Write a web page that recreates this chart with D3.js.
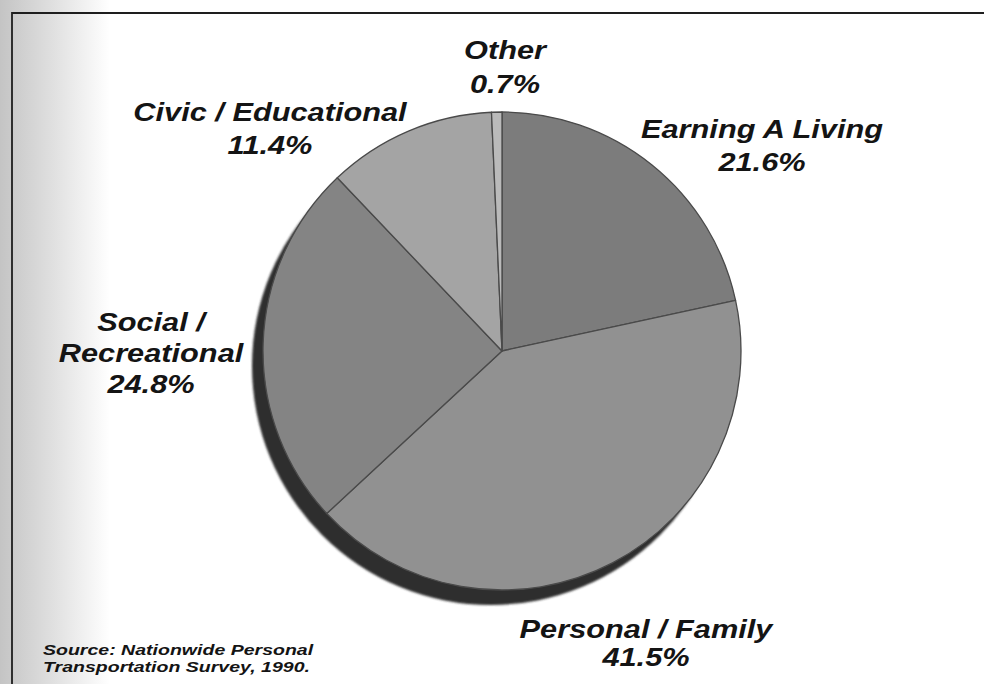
<!DOCTYPE html>
<html>
<head>
<meta charset="utf-8">
<script src="https://cdn.jsdelivr.net/npm/d3@7"></script>
<style>
  html, body { margin: 0; padding: 0; background: #fff; }
  svg { display: block; }
  text { font-family: "Liberation Sans", Arial, Helvetica, sans-serif; font-weight: bold; font-style: italic; fill: #141414; }
</style>
</head>
<body>
<svg id="chart" width="984" height="684"></svg>
<script>
// Trip purpose shares (percent of person trips)
const categories = ["Earning A Living", "Personal / Family", "Social / Recreational", "Civic / Educational", "Other"];
const shares = [21.6, 41.5, 24.8, 11.4, 0.7];
const labelLines = [["Earning A Living"], ["Personal / Family"], ["Social /", "Recreational"], ["Civic / Educational"], ["Other"]];
const sourceLines = ["Source: Nationwide Personal", "Transportation Survey, 1990."];

const W = 984, H = 684;
const cx = 502, cy = 351, R = 239;
const sliceFills = ["#7c7c7c", "#919191", "#848484", "#a4a4a4", "#bababa"];
// label anchor (centre x, first baseline y, line step) per slice
const labelPos = [
  { x: 762, y: 138, step: 33 },
  { x: 646, y: 638, step: 28 },
  { x: 151, y: 331, step: 31 },
  { x: 270, y: 121, step: 33 },
  { x: 505, y: 59, step: 34 }
];
const stretch = 1.23; // wide lettering

const svg = d3.select("#chart");

// page edge shading on the left
const defs = svg.append("defs");
const g1 = defs.append("linearGradient").attr("id", "edge").attr("x1", 0).attr("x2", 1).attr("y1", 0).attr("y2", 0);
g1.append("stop").attr("offset", 0).attr("stop-color", "#c4c4c4");
g1.append("stop").attr("offset", 0.45).attr("stop-color", "#dedede");
g1.append("stop").attr("offset", 1).attr("stop-color", "#ffffff");
svg.append("rect").attr("x", 0).attr("y", 0).attr("width", 110).attr("height", H).attr("fill", "url(#edge)");

const blur = defs.append("filter").attr("id", "soft").attr("x", "-10%").attr("y", "-10%").attr("width", "120%").attr("height", "120%");
blur.append("feGaussianBlur").attr("stdDeviation", 0.8);

// frame
svg.append("path")
  .attr("d", `M12,${H} L12,13 L${W},13`)
  .attr("fill", "none").attr("stroke", "#1e1e1e").attr("stroke-width", 1.8);

const pie = d3.pie().sort(null).value(d => d).startAngle(0).endAngle(2 * Math.PI);
const arcs = pie(shares);
const arc = d3.arc().innerRadius(0).outerRadius(R);

const g = svg.append("g").attr("transform", `translate(${cx},${cy})`);

// drop shadow disc
g.append("path")
  .attr("d", d3.arc().innerRadius(0).outerRadius(R)({ startAngle: 0, endAngle: 2 * Math.PI }))
  .attr("transform", "translate(-11,15)")
  .attr("fill", "#2f2f2f")
  .attr("filter", "url(#soft)");

g.selectAll("path.slice")
  .data(arcs)
  .join("path")
  .attr("class", "slice")
  .attr("d", arc)
  .attr("fill", (d, i) => sliceFills[i])
  .attr("stroke", "#4a4a4a")
  .attr("stroke-width", 1.3)
  .attr("stroke-linejoin", "round");

// labels
const lg = svg.append("g");
categories.forEach((c, i) => {
  const p = labelPos[i];
  const lines = labelLines[i].concat([shares[i].toFixed(1) + "%"]);
  lines.forEach((t, k) => {
    lg.append("text")
      .attr("transform", `translate(${p.x},${p.y + k * p.step}) scale(${stretch},1)`)
      .attr("text-anchor", "middle")
      .attr("font-size", 25)
      .text(t);
  });
});

// source note
sourceLines.forEach((t, k) => {
  svg.append("text")
    .attr("transform", `translate(43,${655 + k * 17}) scale(1.26,1)`)
    .attr("font-size", 15.5)
    .text(t);
});
</script>
</body>
</html>
